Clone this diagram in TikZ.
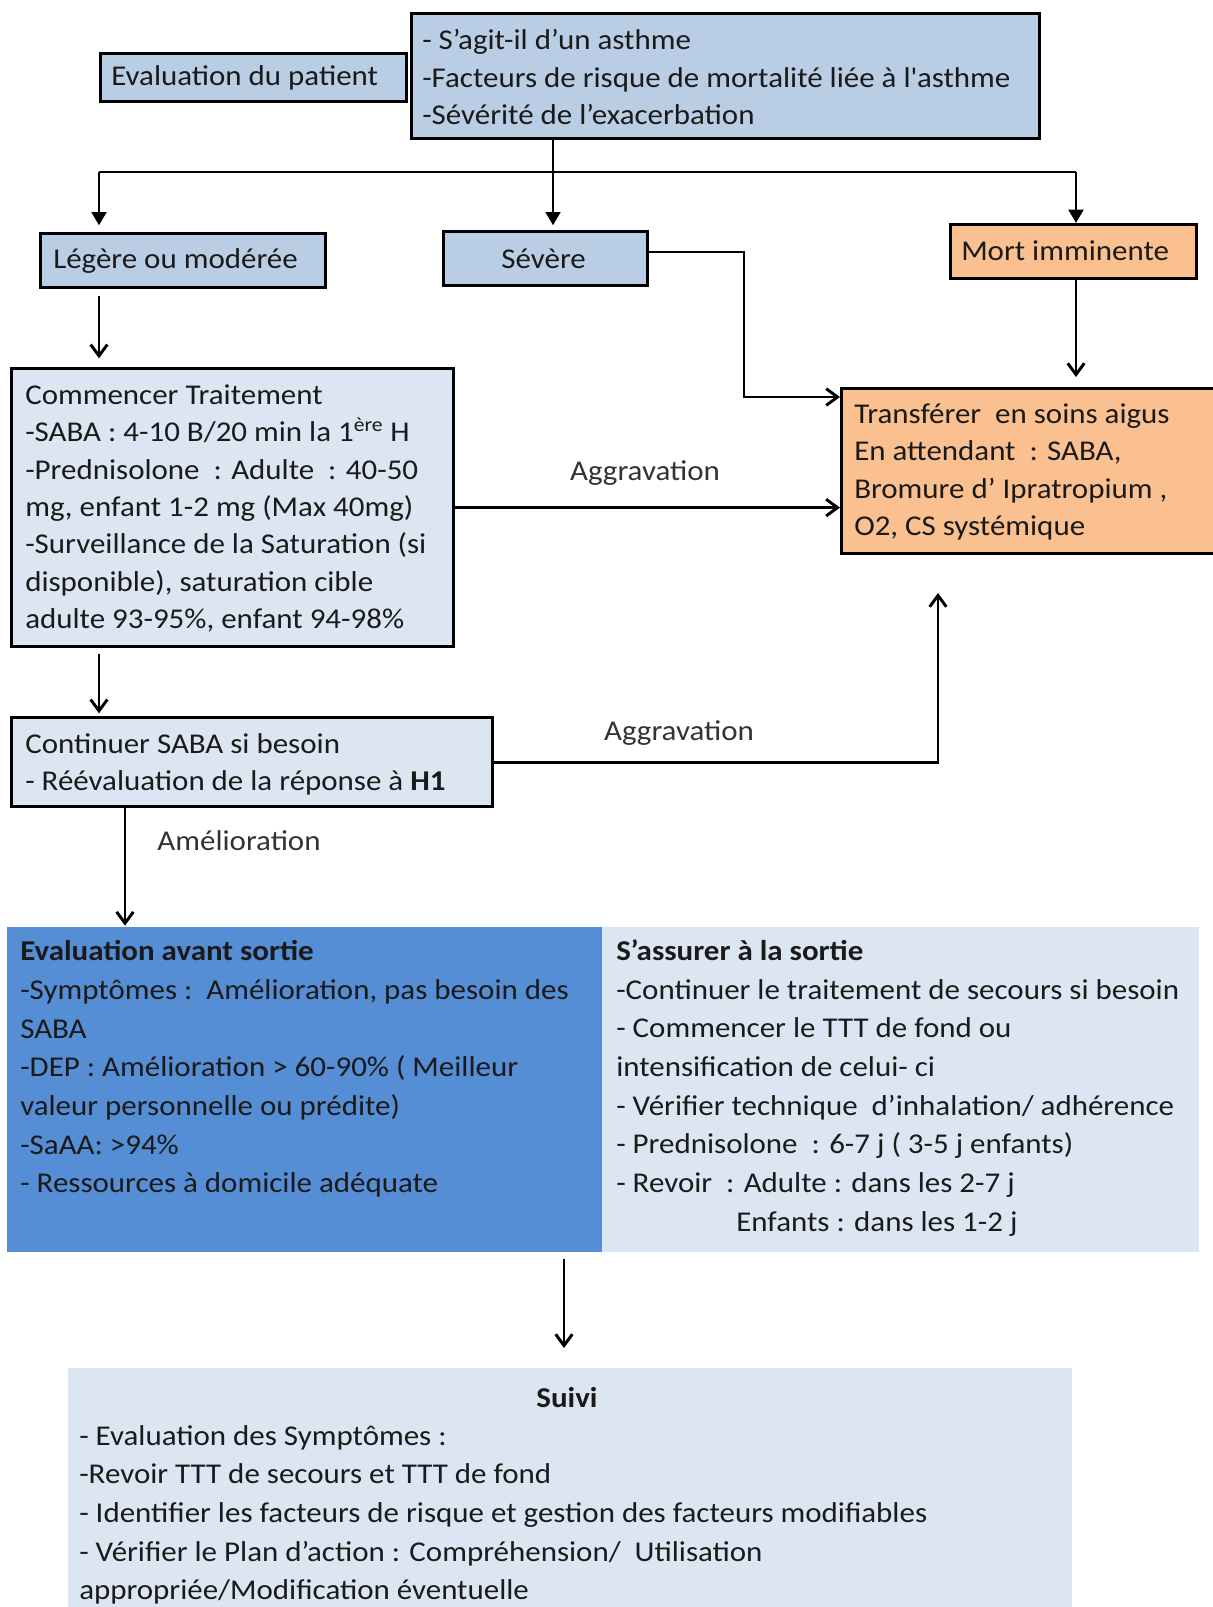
\documentclass[tikz,border=0pt]{standalone}
\usepackage{fontspec}
\setmainfont{Carlito}[FakeStretch=1.08]
\usetikzlibrary{arrows.meta,calc}
\definecolor{bluebox}{HTML}{B9CDE5}
\definecolor{palebox}{HTML}{DCE6F2}
\definecolor{orangebox}{HTML}{FAC090}
\definecolor{darkpanel}{HTML}{558ED5}
\definecolor{ink}{HTML}{1A1A1A}
\definecolor{labelink}{HTML}{333333}
\newcommand\mkbox[6]{\node[#6,anchor=north west,inner sep=0pt,minimum width={(#4-#2)*0.75pt},minimum height={(#5-#3)*0.75pt}] (#1) at (#2,#3) {};}
\begin{document}
\begin{tikzpicture}[x=0.75pt,y=-0.75pt,
  box/.style={draw=black,line width=2.4pt},
  conn/.style={draw=black,line width=2.2pt},
  tri/.style={-{Triangle[length=10pt,width=11pt]}},
  barb/.style={-{Straight Barb[length=8.5pt,width=12.5pt]}},
  txt/.style={font=\fontsize{21.5pt}{28pt}\selectfont,align=left,inner sep=0pt,text=ink},
  txtb/.style={txt,font=\fontsize{21.5pt}{29pt}\selectfont},
  lbl/.style={txt,text=labelink}]
\useasboundingbox (0,0) rectangle (1213,1607);
\clip (0,0) rectangle (1213,1607);
\fill[white] (0,0) rectangle (1213,1607);
% boxes
\mkbox{evalp}{99}{52}{405}{100}{box,fill=bluebox}
\mkbox{top}{410}{12}{1038}{137}{box,fill=bluebox}
\mkbox{leg}{39}{232}{324}{286}{box,fill=bluebox}
\mkbox{sev}{442}{230}{646}{284}{box,fill=bluebox}
\mkbox{mort}{949}{223}{1195}{277}{box,fill=orangebox}
\mkbox{trans}{840}{387}{1240}{552}{box,fill=orangebox}
\mkbox{comm}{10}{367}{452}{645}{box,fill=palebox}
\mkbox{cont}{10}{716}{491}{805}{box,fill=palebox}
\mkbox{lpan}{7}{927}{602}{1252}{fill=darkpanel}
\mkbox{rpan}{602}{927}{1199}{1252}{fill=palebox}
\mkbox{suivi}{68}{1368}{1072}{1640}{fill=palebox}
% texts
\node[txt,anchor=west] (evalpT) at ($(evalp.west)+(12,0)$) {Evaluation du patient};
\node[txt,anchor=west] (topT) at ($(top.west)+(12,1)$) {- S’agit-il d’un asthme\\-Facteurs de risque de mortalité liée à l\textquotesingle asthme\\-Sévérité de l’exacerbation};
\node[txt,anchor=west] (legT) at ($(leg.west)+(14,0)$) {Légère ou modérée};
\node[txt] (sevT) at ($(sev.center)+(-2,0)$) {Sévère};
\node[txt,anchor=west] (mortT) at ($(mort.west)+(12,-1)$) {Mort imminente};
\node[txt,anchor=west] (transT) at ($(trans.west)+(14,1)$) {Transférer\ \ en soins aigus\\En attendant\ \ : SABA,\\Bromure d’ Ipratropium ,\\O2, CS systémique};
\node[txt,anchor=west] (commT) at ($(comm.west)+(15,1)$) {Commencer Traitement\\-SABA : 4-10 B/20 min la 1\textsuperscript{ère} H\\-Prednisolone\ \ : Adulte\ \ : 40-50\\mg, enfant 1-2 mg (Max 40mg)\\-Surveillance de la Saturation (si\\disponible), saturation cible\\adulte 93-95\%, enfant 94-98\%};
\node[txt,anchor=west] (contT) at ($(cont.west)+(15,2)$) {Continuer SABA si besoin\\- Réévaluation de la réponse à \textbf{H1}};
\node[txtb,anchor=west] (lpanT) at (20,1069) {\textbf{Evaluation avant sortie}\\-Symptômes :\ \ Amélioration, pas besoin des\\SABA\\-DEP : Amélioration > 60-90\% ( Meilleur\\valeur personnelle ou prédite)\\-SaAA: >94\%\\- Ressources à domicile adéquate};
\node[txtb,anchor=west] (rpanT) at (616,1088) {\textbf{S’assurer à la sortie}\\-Continuer le traitement de secours si besoin\\- Commencer le TTT de fond ou\\intensification de celui- ci\\- Vérifier technique\ \ d’inhalation/ adhérence\\- Prednisolone\ \ : 6-7 j ( 3-5 j enfants)\\- Revoir\ \ : Adulte : dans les 2-7 j\\\hspace*{90pt}Enfants : dans les 1-2 j};
\node[txtb] (suiviH) at (567,1398) {\textbf{Suivi}};
\node[txtb,anchor=west] (suiviT) at (79,1515) {- Evaluation des Symptômes :\\-Revoir TTT de secours et TTT de fond\\- Identifier les facteurs de risque et gestion des facteurs modifiables\\- Vérifier le Plan d’action : Compréhension/\ \ Utilisation\\appropriée/Modification éventuelle};
\node[lbl] (agg1) at (645,473) {Aggravation};
\node[lbl] (agg2) at (679,733) {Aggravation};
\node[lbl] (amel) at (239,841) {Amélioration};
% connectors
\coordinate (barL) at (99,172);
\coordinate (barM) at (553,172);
\coordinate (barR) at (1076,172);
\coordinate (sevElbow) at (744,397);
\coordinate (aggUp) at (938,593);
\coordinate (colL) at (99,0);
\coordinate (colA) at (125,0);
\coordinate (colS) at (564,0);
\draw[conn] (barL) -- (barR);
\draw[conn] (top.south -| barM) -- (barM);
\draw[conn,tri,shorten >=5pt] (barL) -- (leg.north -| barL);
\draw[conn,tri,shorten >=3.5pt] (barM) -- (sev.north -| barM);
\draw[conn,tri] (barR) -- (mort.north -| barR);
\draw[conn,barb] (sev.east |- 0,252) -- (sevElbow |- 0,252) -- (sevElbow) -- (sevElbow -| trans.west);
\draw[conn,barb,shorten >=7.5pt] (mort.south -| barR) -- (trans.north -| barR);
\draw[conn,barb] (comm.east) -- (comm.east -| trans.west);
\draw[conn,barb] (cont.east) -| (aggUp);
\draw[conn,barb,shorten <=5pt,shorten >=6.5pt] (leg.south -| colL) -- (comm.north -| colL);
\draw[conn,barb,shorten <=4pt,shorten >=2pt] (comm.south -| colL) -- (cont.north -| colL);
\draw[conn,barb,shorten >=1pt] (cont.south -| colA) -- (lpan.north -| colA);
\draw[conn,barb,shorten <=4.5pt,shorten >=15pt] (lpan.south -| colS) -- (suivi.north -| colS);
\end{tikzpicture}
\end{document}
